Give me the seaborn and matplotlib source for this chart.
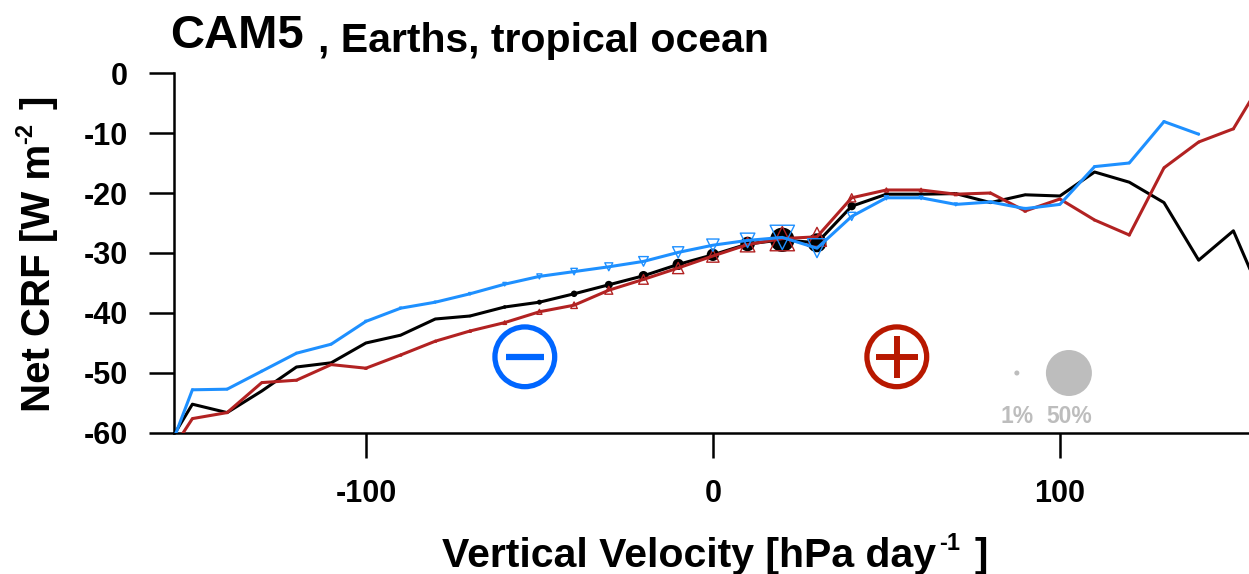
import matplotlib
matplotlib.use("Agg")
import matplotlib.pyplot as plt
import numpy as np
import pandas as pd
import seaborn as sns

## values
omega = [-160, -150, -140, -130, -120, -110, -100, -90, -80, -70, -60, -50, -40, -30, -20, -10,
         0, 10, 20, 30, 40, 50, 60, 70, 80, 90, 100, 110, 120, 130, 140, 150, 160]
black_crf = [-64.8, -55.2, -56.6, -53.0, -49.0, -48.3, -45.0, -43.7, -41.0, -40.5, -39.0, -38.2, -36.8, -35.3, -33.8, -31.9,
             -30.3, -28.5, -27.8, -28.3, -22.2, -20.2, -20.2, -20.1, -21.6, -20.3, -20.5, -16.5, -18.2, -21.6, -31.2, -26.3, -39.7]
red_crf = [-66.5, -57.6, -56.6, -51.6, -51.2, -48.6, -49.2, -47.0, -44.7, -43.0, -41.6, -39.8, -38.7, -36.2, -34.4, -32.5,
           -30.5, -28.6, -27.6, -27.3, -20.8, -19.5, -19.5, -20.2, -20.0, -23.0, -21.0, -24.5, -27.0, -15.8, -11.5, -9.3, 0.3]
blue_crf = [-68.0, -52.8, -52.7, -49.7, -46.7, -45.2, -41.4, -39.2, -38.2, -36.8, -35.2, -33.9, -33.1, -32.3, -31.4, -29.9,
            -28.7, -27.9, -27.4, -29.2, -23.9, -20.8, -20.8, -21.9, -21.5, -22.6, -21.9, -15.6, -15.0, -8.1, -10.2, np.nan, np.nan]
## frequency of each bin in percent, sets the marker area
freq = [0.05, 0.05, 0.05, 0.05, 0.05, 0.05, 0.1, 0.1, 0.1, 0.15, 0.3, 0.6, 1.0, 1.5, 2.2, 3.0,
        3.6, 5.0, 14.0, 8.5, 1.6, 0.4, 0.3, 0.2, 0.1, 0.1, 0.05, 0.05, 0.05, 0.05, 0.05, 0.05, 0.05]
key_freq = [0.6, 50]
key_labels = ["1%", "50%"]

df = pd.DataFrame({"omega": omega, "black": black_crf, "red": red_crf, "blue": blue_crf, "freq": freq})
df["area"] = 1097 * df["freq"] / 50

sns.set_style("ticks", {"text.color": "black", "axes.edgecolor": "black", "xtick.color": "black", "ytick.color": "black"})
plt.rcParams["font.family"] = ["Liberation Sans", "DejaVu Sans"]
plt.rcParams["font.weight"] = "bold"
plt.rcParams["axes.unicode_minus"] = False


def figtext(px, py, s, size, rotation=0):
    # anchor given in image pixels, at the text baseline start
    fig.text(px / 1249, 1 - py / 574, s, fontsize=size, fontweight="bold", ha="left", va="baseline",
             rotation=rotation, rotation_mode="anchor")


fig = plt.figure(figsize=(12.49, 5.74), dpi=100)
ax = fig.add_axes([174 / 1249, 1 - 433 / 574, 1075 / 1249, 360 / 574])

## lines and markers
sns.lineplot(data=df, x="omega", y="black", color="black", lw=2.2, ax=ax, zorder=3)
sns.scatterplot(data=df, x="omega", y="black", s=df["area"], color="black", edgecolor="none", marker="o", ax=ax, zorder=3)
sns.lineplot(data=df, x="omega", y="red", color="#b22222", lw=2.2, ax=ax, zorder=4)
sns.scatterplot(data=df, x="omega", y="red", s=df["area"], facecolor="none", edgecolor="#b22222", linewidth=1.0, marker="^", ax=ax, zorder=4)
blue = df.dropna(subset=["blue"])
sns.lineplot(data=blue, x="omega", y="blue", color="#1e90ff", lw=2.2, ax=ax, zorder=5)
sns.scatterplot(data=blue, x="omega", y="blue", s=blue["area"], facecolor="none", edgecolor="#1e90ff", linewidth=1.0, marker="v", ax=ax, zorder=5)

## circled minus / plus
ax.scatter([-54.2], [-47.3], s=1850, facecolor="none", edgecolor="#0066ff", linewidth=3.8, zorder=6)
ax.scatter([-54.2], [-47.3], s=750, marker="_", color="#0066ff", linewidth=4.5, zorder=6)
ax.scatter([53], [-47.3], s=1850, facecolor="none", edgecolor="#b81800", linewidth=3.8, zorder=6)
ax.scatter([53], [-47.3], s=915, marker="+", color="#b81800", linewidth=4.3, zorder=6)

## size key
key_x = [87.6, 102.6]
ax.scatter(key_x, [-50, -50], s=[1097 * f / 50 for f in key_freq], color="#bdbdbd", edgecolor="none", zorder=6)
for kx, lab in zip(key_x, key_labels):
    ax.text(kx, -57.3, lab, color="#bdbdbd", fontsize=16.5, ha="center", va="center", fontweight="bold")

ax.set_xlim(-155.3, 154.5)
ax.set_ylim(-60, 0)
ax.set_xticks([-100, 0, 100])
ax.set_yticks([0, -10, -20, -30, -40, -50, -60])
ax.tick_params(length=18, width=1.8, labelsize=22)
ax.tick_params(axis="y", pad=15)
ax.tick_params(axis="x", pad=15)
sns.despine(ax=ax)
for s in ["left", "bottom"]:
    ax.spines[s].set_linewidth(1.8)

ax.set_xlabel("")
ax.set_ylabel("")

## axis titles and superscripts placed piece by piece
figtext(442, 567, "Vertical Velocity [hPa day", 29.5)
figtext(939, 550, "-1", 17)
figtext(975, 567, "]", 29)
figtext(50, 412, "Net CRF [W m", 29, rotation=90)
figtext(32, 144, "-2", 17, rotation=90)
figtext(50, 109, "]", 29, rotation=90)
figtext(170, 48, "CAM5", 34)
figtext(318, 52, ", Earths, tropical ocean", 29.5)

fig.savefig("out.png", dpi=100)
